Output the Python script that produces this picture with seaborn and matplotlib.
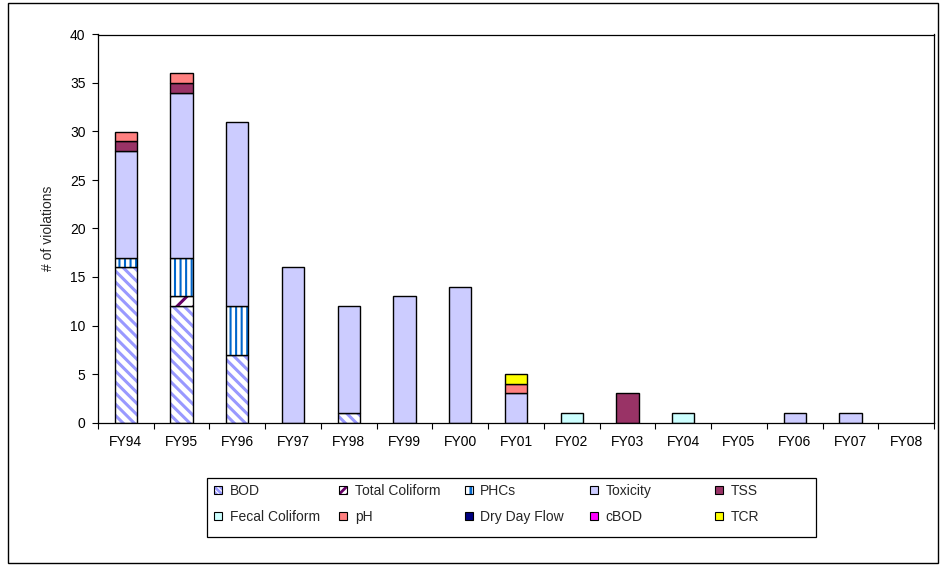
import numpy as np
import pandas as pd
import seaborn as sns
import matplotlib.pyplot as plt
from matplotlib.patches import Patch, Rectangle

years = ["FY94", "FY95", "FY96", "FY97", "FY98", "FY99", "FY00", "FY01",
         "FY02", "FY03", "FY04", "FY05", "FY06", "FY07", "FY08"]

bod = [16, 12, 7, 0, 1, 0, 0, 0, 0, 0, 0, 0, 0, 0, 0]
total_coliform = [0, 1, 0, 0, 0, 0, 0, 0, 0, 0, 0, 0, 0, 0, 0]
phcs = [1, 4, 5, 0, 0, 0, 0, 0, 0, 0, 0, 0, 0, 0, 0]
toxicity = [11, 17, 19, 16, 11, 13, 14, 3, 0, 0, 0, 0, 1, 1, 0]
tss = [1, 1, 0, 0, 0, 0, 0, 0, 0, 3, 0, 0, 0, 0, 0]
fecal_coliform = [0, 0, 0, 0, 0, 0, 0, 0, 1, 0, 1, 0, 0, 0, 0]
ph = [1, 1, 0, 0, 0, 0, 0, 1, 0, 0, 0, 0, 0, 0, 0]
dry_day_flow = [0, 0, 0, 0, 0, 0, 0, 0, 0, 0, 0, 0, 0, 0, 0]
cbod = [0, 0, 0, 0, 0, 0, 0, 0, 0, 0, 0, 0, 0, 0, 0]
tcr = [0, 0, 0, 0, 0, 0, 0, 1, 0, 0, 0, 0, 0, 0, 0]

# label, values, face colour, stripe colour, hatch, hatch line width, legend hatch
series = [
    ("BOD", bod, "white", "#9999FF", "\\\\\\", 2.2, "\\\\\\\\\\\\"),
    ("Total Coliform", total_coliform, "white", "#660066", "//", 2.2, "////"),
    ("PHCs", phcs, "white", "#0066CC", "|||", 1.5, "||"),
    ("Toxicity", toxicity, "#CCCCFF", None, None, 1.0, None),
    ("TSS", tss, "#993366", None, None, 1.0, None),
    ("Fecal Coliform", fecal_coliform, "#CCFFFF", None, None, 1.0, None),
    ("pH", ph, "#FF8080", None, None, 1.0, None),
    ("Dry Day Flow", dry_day_flow, "#000080", None, None, 1.0, None),
    ("cBOD", cbod, "#FF00FF", None, None, 1.0, None),
    ("TCR", tcr, "#FFFF00", None, None, 1.0, None),
]

sns.set_style("ticks")
plt.rcParams['font.family'] = ['Liberation Sans', 'DejaVu Sans']
plt.rcParams['hatch.linewidth'] = 2.0

fig = plt.figure(figsize=(9.41, 5.65), dpi=100)
ax = fig.add_axes([98 / 941, 1 - 422.5 / 565, 836 / 941, 388 / 565])

bottom = np.zeros(len(years))
handles = {}
for label, vals, face, stripe, hatch, hlw, leg_hatch in series:
    vals = np.array(vals, dtype=float)
    keep = vals > 0
    if keep.any():
        df = pd.DataFrame({"year": np.array(years)[keep], "n": vals[keep]})
        if hatch:
            n_before = len(ax.patches)
            sns.barplot(data=df, x="year", y="n", order=years, width=0.4,
                        color="white", saturation=1, edgecolor=stripe,
                        linewidth=0, hatch=hatch, bottom=bottom[keep],
                        errorbar=None, ax=ax)
            for p in ax.patches[n_before:]:
                if hasattr(p, "set_hatch_linewidth"):
                    p.set_hatch_linewidth(hlw)
            sns.barplot(data=df, x="year", y="n", order=years, width=0.4,
                        color="black", fill=False, linewidth=1,
                        bottom=bottom[keep], errorbar=None, ax=ax)
        else:
            sns.barplot(data=df, x="year", y="n", order=years, width=0.4,
                        color=face, saturation=1, edgecolor="black",
                        linewidth=1, bottom=bottom[keep], errorbar=None, ax=ax)
    bottom += vals
    if hatch:
        hp = Patch(facecolor="white", edgecolor=stripe, hatch=leg_hatch, lw=0)
        if hasattr(hp, "set_hatch_linewidth"):
            hp.set_hatch_linewidth(1.5)
        handles[label] = (hp, Patch(facecolor="none", edgecolor="black", lw=0.8))
    else:
        handles[label] = Patch(facecolor=face, edgecolor="black", lw=0.8)

ax.set_xlim(-0.5, 14.5)
ax.set_ylim(0, 40)
ax.set_yticks(np.arange(0, 41, 5))
ax.set_xticks(np.arange(-0.5, 15, 1), minor=True)
ax.tick_params(axis="x", which="major", length=0, pad=9, labelsize=10, colors="black")
ax.tick_params(axis="x", which="minor", length=4, width=0.8, direction="out", color="black")
ax.tick_params(axis="y", length=4, width=0.8, pad=5, labelsize=10, colors="black")
for sp in ax.spines.values():
    sp.set_visible(True)
    sp.set_color("black")
    sp.set_linewidth(0.9)
ax.set_xlabel("")
ax.set_ylabel("# of violations", fontsize=10)
ax.yaxis.set_label_coords(-0.0514, 0.5)

# legend laid out like the original: 5 evenly spaced columns, 2 rows
cols = [["BOD", "Fecal Coliform"], ["Total Coliform", "pH"], ["PHCs", "Dry Day Flow"],
        ["Toxicity", "cBOD"], ["TSS", "TCR"]]
for i, col in enumerate(cols):
    leg = fig.legend([handles[c] for c in col], col, loc="upper left",
                     bbox_to_anchor=((214 + i * 125.25) / 941, 1 - 484 / 565),
                     frameon=False, fontsize=10, handlelength=0.58, handleheight=0.58,
                     handletextpad=0.55, labelspacing=0.86, borderpad=0, borderaxespad=0)
fig.add_artist(Rectangle((207 / 941, 1 - 537 / 565), 609 / 941, 59 / 565,
                         transform=fig.transFigure, fill=False, edgecolor="black", lw=0.9))

# outer border of the chart
fig.add_artist(Rectangle((8 / 941, 2 / 565), 930 / 941, 560 / 565,
                         transform=fig.transFigure, fill=False, edgecolor="black", lw=1))

plt.savefig("out.png", dpi=100)
